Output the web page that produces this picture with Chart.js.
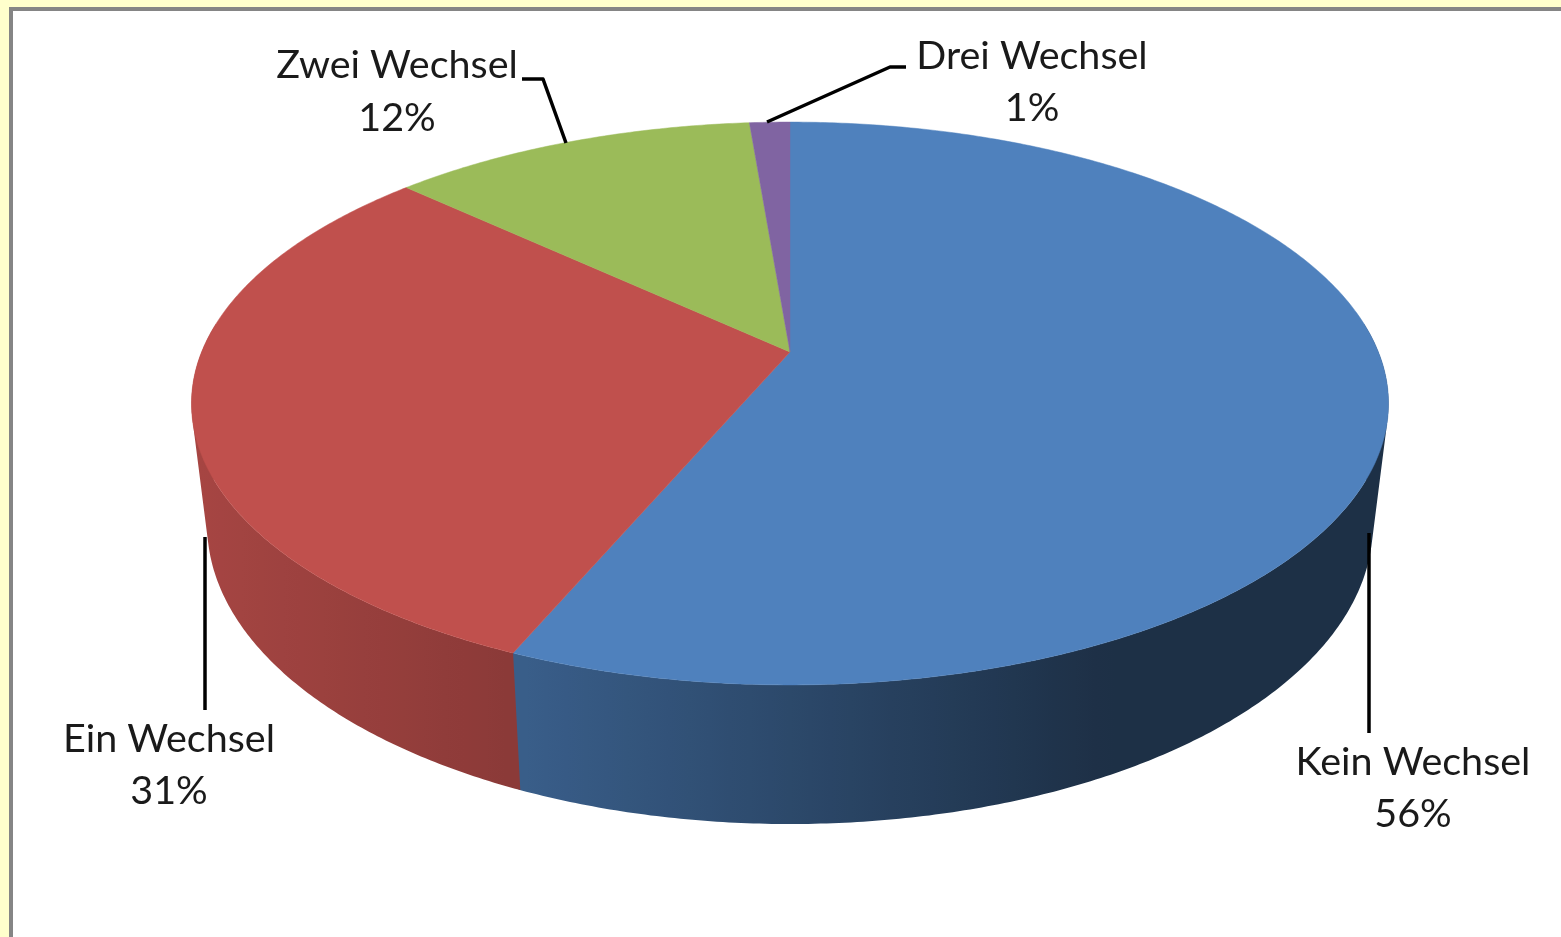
<!DOCTYPE html>
<html lang="de">
<head>
<meta charset="utf-8">
<title>Wechsel</title>
<script src="https://cdn.jsdelivr.net/npm/chart.js@4"></script>
<style>
html,body{margin:0;padding:0;width:1561px;height:937px;overflow:hidden;background:#ffffcc}
#frame{position:absolute;left:9px;top:7px;width:1552px;height:930px;box-sizing:border-box;border-left:4px solid #858585;border-top:4px solid #858585;background:#fff}
canvas{position:absolute;left:0;top:0}
</style>
</head>
<body>
<div id="frame"></div>
<canvas id="c" width="1561" height="937"></canvas>
<script>
const categories = ['Kein Wechsel', 'Ein Wechsel', 'Zwei Wechsel', 'Drei Wechsel'];
const shares = [56.4, 30.5, 11.8, 1.3];
const sliceColors = ['#4F81BD', '#C0504D', '#9BBB59', '#8064A2'];

// Perspective projection of the unit disc, top and bottom rims
const CX = 790, TILT = 0.183;
const topRim = {y0: 352, k: 272, r: 588.4};
const lowRim = {y0: 470.3, k: 289, r: 573};
function project(rim, angle) {
  const u = Math.cos(angle), v = Math.sin(angle), w = 1 - TILT * v;
  return [CX + rim.r * u / w, rim.y0 + rim.k * v / w];
}
function hexRgb(h) { return [1, 3, 5].map(i => parseInt(h.substr(i, 2), 16)); }
function wallShade(x) {
  if (x < 517) return 0.86 - (x - 205) * 0.00045;
  return Math.max(0.37, 0.73 - (x - 520) * 0.00062);
}
function signedArea(p) {
  let s = 0;
  p.forEach((q, n) => { const r = p[(n + 1) % p.length]; s += q[0] * r[1] - r[0] * q[1]; });
  return s;
}
const labelPlaces = [
  {x: 1413, y: [762.5, 814.5]},
  {x: 169, y: [739.5, 791.5]},
  {x: 397, y: [65.5, 118.5]},
  {x: 1032, y: [56.5, 108.5]}
];
const leaders = [
  [[1369, 533], [1369, 733]],
  [[205, 537], [205, 710]],
  [[522, 79], [543, 79], [566, 143]],
  [[906, 67], [890, 67], [767, 122]]
];

const pie3d = {
  id: 'pie3d',
  beforeDatasetDraw(chart, args) {
    const ctx = chart.ctx, arcs = chart.getDatasetMeta(args.index).data;
    const colors = chart.data.datasets[args.index].backgroundColor;
    const step = Math.PI / 360;
    ctx.save();
    // side walls: every slice is one path made of same-winding quads
    arcs.forEach((arc, i) => {
      const base = hexRgb(colors[i]);
      const x0 = 180, x1 = 1400;
      const grad = ctx.createLinearGradient(x0, 0, x1, 0);
      for (let n = 0; n <= 60; n++) {
        const f = wallShade(x0 + (x1 - x0) * n / 60);
        grad.addColorStop(n / 60, `rgb(${base.map(c => Math.round(c * f)).join(',')})`);
      }
      // a hair of overlap hides the anti-aliased joint between neighbouring walls
      const end = arc.endAngle + (i === 0 ? 0.003 : 0);
      ctx.beginPath();
      for (let a = arc.startAngle; a < end; a += step) {
        const b = Math.min(a + step, end);
        if (Math.sin(a) < -0.1 && Math.sin(b) < -0.1) continue;
        let p = [project(topRim, a), project(topRim, b), project(lowRim, b), project(lowRim, a)];
        if (signedArea(p) < 0) p = p.reverse();
        p.forEach((q, n) => n ? ctx.lineTo(q[0], q[1]) : ctx.moveTo(q[0], q[1]));
        ctx.closePath();
      }
      ctx.fillStyle = grad;
      ctx.fill();
    });
    // top surface
    arcs.forEach((arc, i) => {
      ctx.beginPath();
      ctx.moveTo(CX, topRim.y0);
      for (let a = arc.startAngle; a < arc.endAngle; a += step) {
        const q = project(topRim, a);
        ctx.lineTo(q[0], q[1]);
      }
      const e = project(topRim, arc.endAngle);
      ctx.lineTo(e[0], e[1]);
      ctx.closePath();
      ctx.fillStyle = colors[i]; ctx.strokeStyle = colors[i]; ctx.lineWidth = 0.5;
      ctx.fill(); ctx.stroke();
    });
    ctx.restore();
    return false;
  },
  afterDatasetsDraw(chart) {
    const ctx = chart.ctx;
    ctx.save();
    ctx.strokeStyle = '#000'; ctx.lineWidth = 3.5; ctx.lineJoin = 'round';
    leaders.forEach(l => {
      ctx.beginPath();
      l.forEach((q, n) => n ? ctx.lineTo(q[0], q[1]) : ctx.moveTo(q[0], q[1]));
      ctx.stroke();
    });
    ctx.fillStyle = '#1a1a1a';
    ctx.font = '39.5px Lato, Carlito, sans-serif';
    ctx.textAlign = 'center'; ctx.textBaseline = 'middle';
    categories.forEach((name, i) => {
      const p = labelPlaces[i];
      ctx.fillText(name, p.x, p.y[0]);
      ctx.fillText(Math.round(shares[i]) + '%', p.x, p.y[1]);
    });
    ctx.restore();
  }
};

new Chart(document.getElementById('c'), {
  type: 'pie',
  data: {labels: categories, datasets: [{data: shares, backgroundColor: sliceColors, borderWidth: 0}]},
  options: {
    responsive: false, animation: false, rotation: 0,
    plugins: {legend: {display: false}, tooltip: {enabled: false}, title: {display: false}}
  },
  plugins: [pie3d]
});
</script>
</body>
</html>
